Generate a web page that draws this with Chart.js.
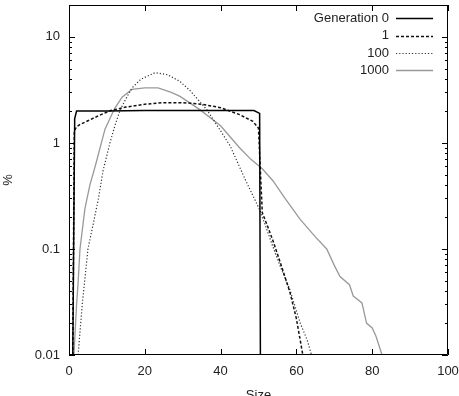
<!DOCTYPE html>
<html>
<head>
<meta charset="utf-8">
<script src="https://cdn.jsdelivr.net/npm/chart.js@4"></script>
<style>
  html, body { margin: 0; padding: 0; background: #fff; }
  #wrap { width: 459px; height: 396px; }
</style>
</head>
<body>
<div id="wrap"><canvas id="myChart" width="459" height="396"></canvas></div>
<script>
const ctx = document.getElementById('myChart');

// labels
const seriesNames = ['Generation 0', '1', '100', '1000'];
const xTicks = [0, 20, 40, 60, 80, 100];
const yTicks = [0.01, 0.1, 1, 10];

// generation 0
const gen0Size = [1, 1.5, 2, 10, 20, 30, 40, 48.8, 50.3, 50.5];
const gen0Pct = [0.01, 1.7, 2.0, 2.0, 2.02, 2.02, 2.02, 2.02, 1.9, 0.01];

// generation 1
const gen1Size = [1, 1.4, 2, 3, 5, 8, 11, 15, 20, 25, 30, 35, 40, 45, 48.5, 50, 50.6, 51, 52.5, 53.8, 56, 58.3, 60, 61.7];
const gen1Pct = [0.01, 1.3, 1.42, 1.5, 1.62, 1.82, 2.02, 2.18, 2.32, 2.4, 2.4, 2.32, 2.15, 1.85, 1.6, 1.38, 0.45, 0.22, 0.16, 0.12, 0.07, 0.039, 0.022, 0.01];

// generation 100
const gen100Size = [2.4, 3.5, 5, 6.5, 7.7, 9, 10.8, 12.1, 13.5, 15, 16.6, 19, 22.7, 26, 29.3, 32, 36.4, 40, 42.5, 46.4, 50.4, 53.8, 56, 58.3, 61, 62.8, 64];
const gen100Pct = [0.01, 0.03, 0.1, 0.18, 0.29, 0.55, 1.0, 1.45, 2.05, 2.6, 3.3, 4.0, 4.6, 4.4, 3.8, 3.1, 2.05, 1.3, 0.94, 0.46, 0.23, 0.105, 0.065, 0.041, 0.02, 0.014, 0.01];

// generation 1000
const gen1000Size = [1.3, 2, 2.4, 2.9, 4.2, 5.5, 6.9, 9.5, 12, 14, 16.6, 20, 23.5, 27, 29.3, 34.6, 40, 45, 48, 51, 53.8, 57, 61, 65, 68, 70, 71.5, 74, 75, 77.3, 78.5, 80, 81, 82.6];
const gen1000Pct = [0.01, 0.03, 0.048, 0.1, 0.24, 0.4, 0.6, 1.35, 2.1, 2.7, 3.2, 3.3, 3.3, 3.0, 2.75, 2.05, 1.45, 0.9, 0.7, 0.57, 0.44, 0.3, 0.19, 0.13, 0.1, 0.07, 0.055, 0.046, 0.036, 0.031, 0.02, 0.018, 0.015, 0.01];

const toPoints = (xs, ys) => xs.map((x, i) => ({x: x, y: ys[i]}));

const FONT = 'Liberation Sans, Arial, Helvetica, sans-serif';
const TEXT = '#222';

// gnuplot style frame, inward ticks and key drawn over the plot
const framePlugin = {
    id: 'frame',
    afterDraw(chart) {
        const c = chart.ctx;
        const a = chart.chartArea;
        const xs = chart.scales.x;
        const ys = chart.scales.y;
        c.save();
        c.strokeStyle = '#000';
        c.lineWidth = 1;
        c.beginPath();
        c.rect(a.left + 0.5, a.top + 0.5, a.right - a.left - 1, a.bottom - a.top - 1);
        c.stroke();

        c.beginPath();
        xTicks.forEach(v => {
            const px = Math.round(xs.getPixelForValue(v)) + 0.5;
            c.moveTo(px, a.bottom); c.lineTo(px, a.bottom - 6);
            c.moveTo(px, a.top); c.lineTo(px, a.top + 6);
        });
        for (let d = 0.01; d < 100; d *= 10) {
            for (let m = 1; m <= 9; m++) {
                const v = d * m;
                if (v < ys.min - 1e-9 || v > ys.max + 1e-9) continue;
                const py = Math.round(ys.getPixelForValue(v)) + 0.5;
                const len = m === 1 ? 6 : 3;
                c.moveTo(a.left, py); c.lineTo(a.left + len, py);
                c.moveTo(a.right, py); c.lineTo(a.right - len, py);
            }
        }
        c.stroke();

        // key
        const textRight = 389;
        const lineStart = 396;
        const lineEnd = 433;
        const rowY = [18, 35.5, 53, 70];
        c.font = '13px ' + FONT;
        c.fillStyle = TEXT;
        c.textAlign = 'right';
        c.textBaseline = 'middle';
        chart.data.datasets.forEach((ds, i) => {
            c.fillText(ds.label, textRight, rowY[i]);
            c.beginPath();
            c.strokeStyle = ds.borderColor;
            c.lineWidth = ds.borderWidth;
            c.setLineDash(ds.borderDash || []);
            const y = Math.round(rowY[i]) + 0.5;
            c.moveTo(lineStart, y);
            c.lineTo(lineEnd, y);
            c.stroke();
        });
        c.restore();
    }
};

const makeSet = (label, xs, ys, color, width, dash) => ({
    label: label,
    data: toPoints(xs, ys),
    borderColor: color,
    borderWidth: width,
    borderDash: dash,
    pointRadius: 0,
    fill: false,
    tension: 0
});

new Chart(ctx, {
    type: 'line',
    data: {
        datasets: [
            makeSet(seriesNames[0], gen0Size, gen0Pct, '#000', 1.5, []),
            makeSet(seriesNames[1], gen1Size, gen1Pct, '#111', 1.5, [3, 2]),
            makeSet(seriesNames[2], gen100Size, gen100Pct, '#333', 1.2, [1.2, 2]),
            makeSet(seriesNames[3], gen1000Size, gen1000Pct, '#999', 1.3, [])
        ]
    },
    options: {
        responsive: false,
        animation: false,
        layout: { padding: { left: 0, right: 11, top: 5, bottom: 0 } },
        plugins: {
            legend: { display: false },
            tooltip: { enabled: false }
        },
        scales: {
            x: {
                type: 'linear',
                min: 0,
                max: 100,
                afterBuildTicks: (scale) => { scale.ticks = xTicks.map(v => ({value: v})); },
                afterFit: (scale) => {
                    scale.height = 41;
                    scale.paddingLeft = 0;
                    scale.paddingRight = 0;
                },
                grid: { display: false, drawTicks: false },
                border: { display: false },
                ticks: { padding: 9, color: TEXT, font: { family: FONT, size: 13 }, maxRotation: 0 },
                title: { display: true, text: 'Size', color: TEXT, font: { family: FONT, size: 13 }, padding: { top: 0, bottom: -7 } }
            },
            y: {
                type: 'logarithmic',
                min: 0.01,
                max: 20,
                afterBuildTicks: (scale) => { scale.ticks = yTicks.map(v => ({value: v})); },
                afterFit: (scale) => {
                    scale.width = 69;
                    scale.paddingTop = 0;
                    scale.paddingBottom = 0;
                },
                grid: { display: false, drawTicks: false },
                border: { display: false },
                ticks: {
                    padding: 9,
                    color: TEXT,
                    font: { family: FONT, size: 13 },
                    callback: (v) => String(v)
                },
                title: { display: true, text: '%', color: TEXT, font: { family: FONT, size: 13 }, padding: { top: 1, bottom: 0 } }
            }
        }
    },
    plugins: [framePlugin]
});
</script>
</body>
</html>
